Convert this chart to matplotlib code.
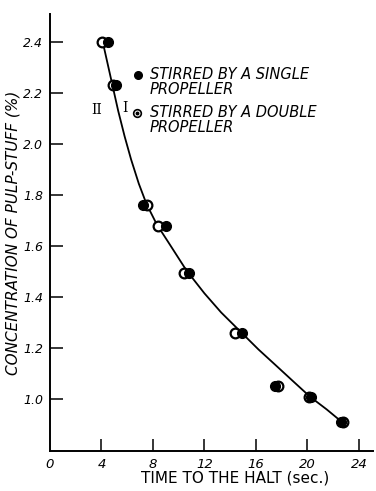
import matplotlib
matplotlib.use('Agg')
import matplotlib.pyplot as plt

# points
single_t = [4.5, 5.1, 7.2, 9.0, 10.8, 14.9, 17.5, 20.3, 22.6]
single_c = [2.40, 2.23, 1.76, 1.68, 1.495, 1.26, 1.05, 1.01, 0.91]
double_t = [4.05, 4.9, 7.5, 8.4, 10.4, 14.4, 17.7, 20.1, 22.8]
double_c = [2.40, 2.23, 1.76, 1.68, 1.495, 1.26, 1.05, 1.01, 0.91]

# the drawn curve
curve_t = [4.1, 4.5, 4.9, 5.3, 5.8, 6.3, 6.9, 7.5, 8.3, 9.2, 10.6, 12.0,
           13.3, 14.9, 16.2, 17.5, 18.9, 20.2, 21.5, 22.7]
curve_c = [2.40, 2.31, 2.22, 2.13, 2.03, 1.94, 1.845, 1.765, 1.685, 1.615, 1.505,
           1.415, 1.34, 1.26, 1.195, 1.135, 1.07, 1.01, 0.96, 0.91]

x_ticks = [0, 4, 8, 12, 16, 20, 24]
y_ticks = [1.0, 1.2, 1.4, 1.6, 1.8, 2.0, 2.2, 2.4]

fig = plt.figure(figsize=(3.76, 4.91), dpi=100)
ax = fig.add_axes([0.133, 0.0815, 0.859, 0.89])

ax.plot(curve_t, curve_c, color='black', lw=1.3, zorder=2)
ax.plot(double_t, double_c, 'o', ms=7, mfc='white', mec='black', mew=1.6, zorder=3)
ax.plot(single_t, single_c, 'o', ms=7, mfc='black', mec='black', zorder=4)

ax.set_xlim(0, 25.1)
ax.set_ylim(0.797, 2.51)
ax.spines['top'].set_visible(False)
ax.spines['right'].set_visible(False)
ax.spines['left'].set_linewidth(1.4)
ax.spines['bottom'].set_linewidth(1.4)

ax.set_xticks(x_ticks)
ax.set_xticklabels([str(v) for v in x_ticks], fontstyle='italic', fontsize=9.5)
ax.set_yticks(y_ticks)
ax.set_yticklabels(['{:.1f}'.format(v) for v in y_ticks], fontstyle='italic', fontsize=9)
ax.tick_params(axis='both', direction='in', length=9, width=1.1, pad=5)
ax.xaxis.get_major_ticks()[0].tick1line.set_visible(False)

ax.set_xlabel('TIME TO THE HALT (sec.)', fontsize=11)
ax.xaxis.set_label_coords(0.573, -0.044)
ax.set_ylabel('CONCENTRATION OF PULP-STUFF (%)', fontsize=11, fontstyle='italic')
ax.yaxis.set_label_coords(-0.09, 0.5)

# legend drawn by hand
ax.plot([6.85], [2.272], 'o', ms=5.5, mfc='black', mec='black')
ax.text(7.75, 2.243, 'STIRRED BY A SINGLE\nPROPELLER', fontsize=10.5, fontstyle='italic',
        va='center', ha='left', linespacing=1.0)
ax.plot([6.77], [2.123], 'o', ms=5.5, mfc='white', mec='black', mew=1.2)
ax.plot([6.77], [2.123], 'o', ms=1.8, color='black')
ax.text(7.75, 2.094, 'STIRRED BY A DOUBLE\nPROPELLER', fontsize=10.5, fontstyle='italic',
        va='center', ha='left', linespacing=1.0)

ax.text(3.66, 2.135, 'II', fontsize=10, family='DejaVu Serif', ha='center', va='center')
ax.text(5.84, 2.14, 'I', fontsize=10, family='DejaVu Serif', ha='center', va='center')

fig.savefig('out.png', dpi=100)
